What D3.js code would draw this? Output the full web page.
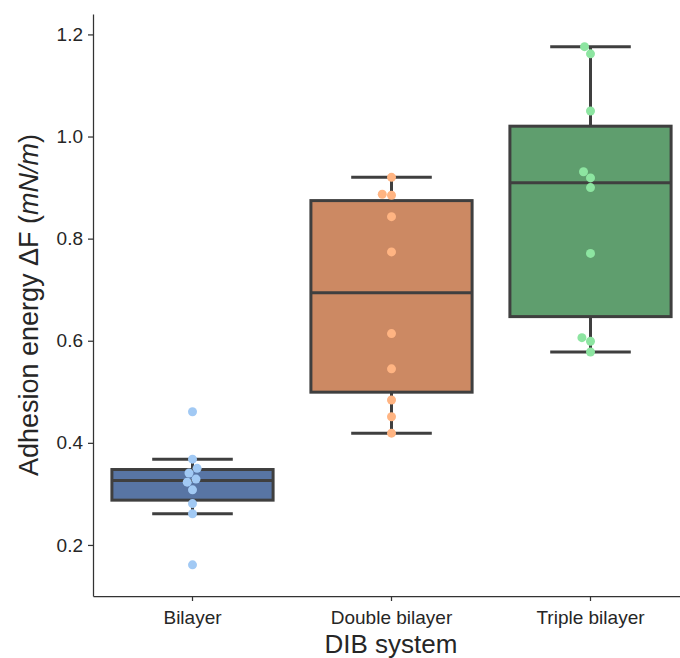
<!DOCTYPE html>
<html>
<meta charset="utf-8">
<style>
body { margin: 0; background: #fff; }
text { font-family: "Liberation Sans", Arial, sans-serif; fill: #262626; }
.axis path, .axis line { stroke: #333; stroke-width: 1.25px; }
</style>
<body>
<script src="https://d3js.org/d3.v7.min.js"></script>
<script>

var systems = ["Bilayer", "Double bilayer", "Triple bilayer"];
var bilayer = [0.461, 0.368, 0.350, 0.341, 0.329, 0.323, 0.308, 0.281, 0.261, 0.161];
var doubleBilayer = [0.920, 0.887, 0.885, 0.843, 0.774, 0.614, 0.545, 0.484, 0.451, 0.419];
var tripleBilayer = [1.176, 1.162, 1.050, 0.931, 0.919, 0.900, 0.771, 0.606, 0.599, 0.578];
var yTicks = [0.2, 0.4, 0.6, 0.8, 1.0, 1.2];

var boxFill = ["#5875a4", "#cc8963", "#5f9e6e"];
var dotFill = ["#a1c9f4", "#ffb482", "#8de5a1"];
var edge = "#3f3f3f";

var W = 680, H = 658;
var svg = d3.select("body").append("svg").attr("width", W).attr("height", H);

var x = d3.scaleBand().domain(systems).range([93, 690]).paddingInner(0).paddingOuter(0);
var y = d3.scaleLinear().domain([0.1, 1.24]).range([596, 14]);

var groups = [bilayer, doubleBilayer, tripleBilayer];

// axes
var gx = svg.append("g").attr("class", "axis").attr("transform", "translate(0,596)")
	.call(d3.axisBottom(x).tickSize(5).tickSizeOuter(0).tickPadding(10));
gx.selectAll("text").attr("font-size", "19px");

var gy = svg.append("g").attr("class", "axis").attr("transform", "translate(93,0)")
	.call(d3.axisLeft(y).tickValues(yTicks).tickFormat(d3.format(".1f")).tickSize(5).tickSizeOuter(0).tickPadding(5));
gy.selectAll("text").attr("font-size", "19px");

svg.append("text").attr("x", 391).attr("y", 653).attr("text-anchor", "middle")
	.attr("font-size", "26px").text("DIB system");

var yl = svg.append("text").attr("transform", "translate(38,305) rotate(-90)")
	.attr("text-anchor", "middle").attr("font-size", "27px");
yl.append("tspan").text("Adhesion energy \u0394F (");
yl.append("tspan").attr("font-style", "italic").text("mN/m");
yl.append("tspan").text(")");

// boxes
var bw = x.bandwidth() * 0.81;
groups.forEach(function(vals, i){
	var s = vals.slice().sort(d3.ascending);
	var q1 = d3.quantile(s, 0.25), med = d3.quantile(s, 0.5), q3 = d3.quantile(s, 0.75);
	var iqr = q3 - q1;
	var lo = d3.min(s.filter(v => v >= q1 - 1.5 * iqr));
	var hi = d3.max(s.filter(v => v <= q3 + 1.5 * iqr));
	var cx = x(systems[i]) + x.bandwidth() / 2;
	var g = svg.append("g");
	g.append("line").attr("x1", cx).attr("x2", cx).attr("y1", y(hi)).attr("y2", y(q3))
		.attr("stroke", edge).attr("stroke-width", 3);
	g.append("line").attr("x1", cx).attr("x2", cx).attr("y1", y(q1)).attr("y2", y(lo))
		.attr("stroke", edge).attr("stroke-width", 3);
	[lo, hi].forEach(function(v){
		g.append("line").attr("x1", cx - bw / 4).attr("x2", cx + bw / 4).attr("y1", y(v)).attr("y2", y(v))
			.attr("stroke", edge).attr("stroke-width", 3);
	});
	g.append("rect").attr("x", cx - bw / 2).attr("width", bw).attr("y", y(q3)).attr("height", y(q1) - y(q3))
		.attr("fill", boxFill[i]).attr("stroke", edge).attr("stroke-width", 3);
	g.append("line").attr("x1", cx - bw / 2).attr("x2", cx + bw / 2).attr("y1", y(med)).attr("y2", y(med))
		.attr("stroke", edge).attr("stroke-width", 3);
});

// swarm points: place each at smallest offset that doesn't overlap placed ones
var r = 4.5, dmin = 2 * r + 0.3;
groups.forEach(function(vals, i){
	var cx = x(systems[i]) + x.bandwidth() / 2;
	var placed = [];
	vals.slice().sort(d3.ascending).forEach(function(v){
		var py = y(v);
		var cands = [0];
		placed.forEach(function(p){
			var dy = Math.abs(p.y - py);
			if (dy < dmin) {
				var dx = Math.sqrt(dmin * dmin - dy * dy);
				cands.push(p.x + dx, p.x - dx);
			}
		});
		cands.sort((a, b) => Math.abs(a) - Math.abs(b) || a - b);
		var ox = cands.find(function(c){
			return placed.every(p => Math.hypot(p.x - c, p.y - py) >= dmin - 0.01);
		});
		placed.push({x: ox, y: py});
	});
	svg.append("g").selectAll("circle").data(placed).enter().append("circle")
		.attr("cx", d => cx + d.x).attr("cy", d => d.y).attr("r", r)
		.attr("fill", dotFill[i]);
});
</script>
</body>
</html>
